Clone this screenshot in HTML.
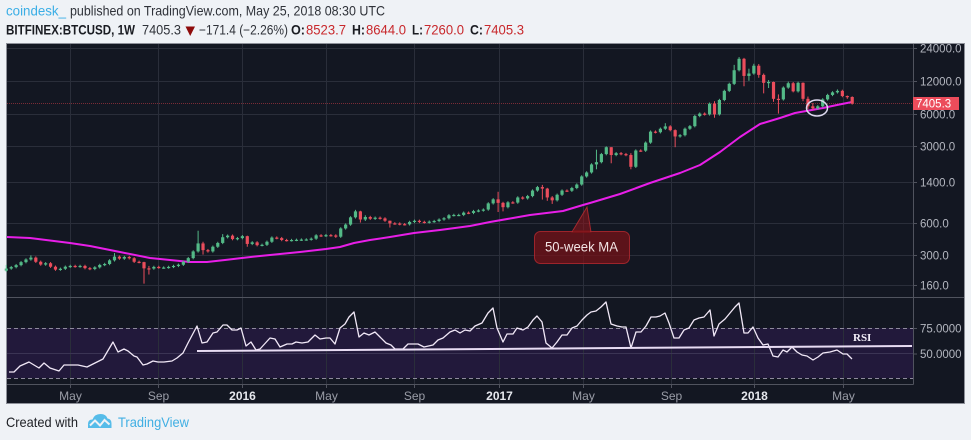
<!DOCTYPE html>
<html><head><meta charset="utf-8">
<style>
html,body{margin:0;padding:0;background:#eff2f6;overflow:hidden;}
svg{display:block;}
</style></head>
<body>
<svg id="s" width="971" height="440" viewBox="0 0 971 440" xmlns="http://www.w3.org/2000/svg" font-family="Liberation Sans, Arial, sans-serif">
<rect x="0" y="0" width="971" height="440" fill="#eff2f6"/>
<!-- header -->
<text x="6" y="15.5" font-size="14" fill="#3aaee6" textLength="60" lengthAdjust="spacingAndGlyphs">coindesk_</text>
<text x="70" y="15.5" font-size="14" fill="#2f3239" textLength="315" lengthAdjust="spacingAndGlyphs">published on TradingView.com, May 25, 2018 08:30 UTC</text>
<text x="6" y="34.5" font-size="13.5" font-weight="bold" fill="#1a1c22" textLength="129" lengthAdjust="spacingAndGlyphs">BITFINEX:BTCUSD, 1W</text>
<text x="142" y="34.5" font-size="13.5" fill="#2f3239" textLength="39" lengthAdjust="spacingAndGlyphs">7405.3</text>
<polygon points="185.5,26.5 195,26.5 190.2,36" fill="#8e0b0b"/>
<text x="199" y="34.5" font-size="13.5" fill="#2f3239" textLength="89" lengthAdjust="spacingAndGlyphs">−171.4 (−2.26%)</text>
<text x="291" y="34.5" font-size="13.5" font-weight="bold" fill="#1a1c22" textLength="14" lengthAdjust="spacingAndGlyphs">O:</text>
<text x="306" y="34.5" font-size="13.5" fill="#c8282c" textLength="40" lengthAdjust="spacingAndGlyphs">8523.7</text>
<text x="352" y="34.5" font-size="13.5" font-weight="bold" fill="#1a1c22" textLength="13" lengthAdjust="spacingAndGlyphs">H:</text>
<text x="366" y="34.5" font-size="13.5" fill="#c8282c" textLength="40" lengthAdjust="spacingAndGlyphs">8644.0</text>
<text x="412" y="34.5" font-size="13.5" font-weight="bold" fill="#1a1c22" textLength="11" lengthAdjust="spacingAndGlyphs">L:</text>
<text x="424" y="34.5" font-size="13.5" fill="#c8282c" textLength="40" lengthAdjust="spacingAndGlyphs">7260.0</text>
<text x="470" y="34.5" font-size="13.5" font-weight="bold" fill="#1a1c22" textLength="13" lengthAdjust="spacingAndGlyphs">C:</text>
<text x="484" y="34.5" font-size="13.5" fill="#c8282c" textLength="40" lengthAdjust="spacingAndGlyphs">7405.3</text>

<!-- chart panel -->
<rect x="6.5" y="43.5" width="958" height="360" fill="#131722" stroke="#8d9099" stroke-width="1"/>
<!-- RSI band -->
<rect x="7" y="328" width="906" height="50" fill="#22193b"/>
<g id="grid"></g>
<line x1="7" y1="353.5" x2="913" y2="353.5" stroke="#3b3454" stroke-width="1"/>
<line x1="7" y1="328.5" x2="913" y2="328.5" stroke="#8e8a9c" stroke-width="1" stroke-dasharray="4,3"/>
<line x1="7" y1="378.5" x2="913" y2="378.5" stroke="#8e8a9c" stroke-width="1" stroke-dasharray="4,3"/>
<!-- separators -->
<line x1="7" y1="297.5" x2="964" y2="297.5" stroke="#50535e" stroke-width="1"/>
<line x1="7" y1="384.5" x2="913.5" y2="384.5" stroke="#50535e" stroke-width="1"/>
<line x1="913.5" y1="44" x2="913.5" y2="384.5" stroke="#50535e" stroke-width="1"/>
<!-- price line -->
<line x1="7" y1="103.5" x2="913" y2="103.5" stroke="#7a2c36" stroke-width="1" stroke-dasharray="1,1"/>
<g id="ma"></g>
<g id="candles"></g>
<g id="rsi"></g>
<line x1="197" y1="351" x2="912" y2="346" stroke="#e8dcf3" stroke-width="2"/>
<text x="853" y="341" font-size="11" font-weight="bold" font-family="Liberation Serif, serif" fill="#f4f0fa">RSI</text>
<!-- circle -->
<ellipse cx="817" cy="108" rx="10.5" ry="8" fill="none" stroke="#dcd8ee" stroke-width="1.5"/>
<!-- callout -->
<polygon points="572,232 587,207 591,232" fill="rgba(150,22,28,0.55)" stroke="rgba(190,45,50,0.8)" stroke-width="1"/>
<rect x="534.5" y="231.5" width="95" height="32" rx="6" ry="6" fill="rgba(120,18,24,0.72)" stroke="rgba(175,40,46,0.85)" stroke-width="1"/>
<rect x="573" y="230" width="17" height="3" fill="rgba(120,18,24,0.72)"/>
<text x="545" y="251.5" font-size="14" fill="#f2e4e4" textLength="73" lengthAdjust="spacingAndGlyphs">50-week MA</text>
<g id="axis" font-size="11.5" fill="#b4b7c0"></g>
<!-- last price tag -->
<rect x="913" y="97" width="46" height="13" fill="#ec4c5b"/>
<text x="916" y="107.5" font-size="11.5" fill="#ffffff">7405.3</text>
<!-- footer -->
<text x="6" y="427" font-size="14" fill="#1e2025" textLength="72" lengthAdjust="spacingAndGlyphs">Created with</text>
<path d="M88,428 L88,424 Q88,419.5 92.5,419.5 Q94.5,414 100.5,414 Q106,414 107.5,418.5 Q111.5,419 111.5,423.5 L111.5,428 Z" fill="#55bce9"/>
<polyline points="90,425.5 95,420.5 100,425.5 104.5,420 109.5,424.5" fill="none" stroke="#eff2f6" stroke-width="2"/>
<text x="118" y="427" font-size="14" fill="#40afe3" textLength="71" lengthAdjust="spacingAndGlyphs">TradingView</text>
</svg>
<script>
(function(){
var NS='http://www.w3.org/2000/svg';
function el(tag,attrs,parent,text){var e=document.createElementNS(NS,tag);for(var k in attrs)e.setAttribute(k,attrs[k]);if(text!=null)e.textContent=text;parent.appendChild(e);return e;}
function py(p){return 48+32.8*Math.log(24000/p)/Math.LN2;}
function cx(i){return 6.3+i*4.918;}
var grid=document.getElementById('grid');
var axis=document.getElementById('axis');
// vertical grid + time labels
var vx=[[70,'May',0],[158,'Sep',0],[242,'2016',1],[326,'May',0],[414,'Sep',0],[499,'2017',1],[583,'May',0],[671,'Sep',0],[754,'2018',1],[843,'May',0]];
vx.forEach(function(v){
  el('line',{x1:v[0]+0.5,y1:44,x2:v[0]+0.5,y2:384,stroke:'#2a2e3a','stroke-width':1},grid);
  el('line',{x1:v[0]+0.5,y1:384,x2:v[0]+0.5,y2:388,stroke:'#50535e','stroke-width':1},axis);
  var t=el('text',{x:v[0]+0.5,y:400,'text-anchor':'middle','font-size':12,fill:v[2]?'#e6e8ee':'#9a9da7','font-weight':v[2]?'bold':'normal'},axis,v[1]);
});
// horizontal grid + price labels
var pl=[[24000,'24000.0'],[12000,'12000.0'],[6000,'6000.0'],[3000,'3000.0'],[1400,'1400.0'],[600,'600.0'],[300,'300.0'],[160,'160.0']];
pl.forEach(function(p){
  var y=Math.round(py(p[0]))+0.5;
  el('line',{x1:7,y1:y,x2:913,y2:y,stroke:'#2a2e3a','stroke-width':1},grid);
  el('line',{x1:913,y1:y,x2:917,y2:y,stroke:'#50535e','stroke-width':1},axis);
  el('text',{x:920,y:y+4},axis,p[1]);
});
[[328.5,'75.0000'],[354,'50.0000']].forEach(function(p){
  el('line',{x1:913,y1:p[0],x2:917,y2:p[0],stroke:'#50535e','stroke-width':1},axis);
  el('text',{x:920,y:p[0]+4},axis,p[1]);
});
// MA
var ma=[[7,237],[30,238],[70,243],[90,246],[100,248],[120,252],[150,258],[170,260],[190,262],[207,262],[225,260],[242,258],[260,256],[280,254],[300,252],[326,249],[340,247],[354,243],[370,240],[390,237],[414,233],[440,230],[470,226],[490,222],[513,218],[530,215],[563,211],[583,205],[590,203],[620,194],[650,183],[680,173],[700,165],[720,152],[740,137],[760,124],[780,118],[795,113],[823,108],[837,105],[852,102]];
el('polyline',{points:ma.map(function(p){return p.join(',');}).join(' '),fill:'none',stroke:'#e81ee8','stroke-width':2,'stroke-linejoin':'round'},document.getElementById('ma'));
// candles
var D=[[227,245,212],[234],[244],[260],[275],[286,300],[262],[247],[254],[236],[222],[226],[236],[240],[237],[240],[229],[225],[233],[245],[250],[270],[292,315],[280],[290],[282],[262],[260],[228,262,165],[227,240,200],[235],[232],[232],[235],[240],[246],[262],[283],[326],[386,505],[335,400,305],[326],[360],[390],[440,470],[455],[423],[432],
[450],[382,455,360],[395],[372],[375],[400],[437],[432],[415],[412],[415],[417],[419],[420],[427],[458],[454],[460],[457],[445],[530],[575],[670],[760,785],[640,770,600],[675,700,620],[650],[665],[655],[624],[590,625,540],[588],[580],[578],[608],[623],[609],[603],[612],[620],[640],[657],[700],[705],[705],[740],[735],[765],[775],[790],[900],[980],
[910,1150,750],[830,930,760],[920],[915],[1020],[1000],[1050],[1180],[1270],[1230,1330,975],[1020,1250,950],[960,1050,890],[1080],[1180],[1175],[1245],[1340],[1590],[1730],[2050],[2150,2800,1850],[2550],[2950,3000],[2500,2950,2100],[2600],[2550],[2500],[1950,2600,1850],[2750],[2740],[3250],[4100],[4050],[4360],[4580,4900],[4230],[3700,4300,2950],[3800],[4360],[4600],[5700],[6000],[5900],[7400],[5900,7800,5500],[8000],[9700],[11250],[15000,16800],[19100,19800],[13300,19500,10700],[14000,15500,12000],
[16500,17200],[13600,17100,12800],[11500,14000,9200],[11700,12200,10300],[8200,11800,7700],[8100,9000,6000],[10400],[11400,11800],[9600,11700,9400],[11500],[8200,11600,7800],[7000,8600,6600],[6700,7500,6500],[7000],[8100],[8900],[9400],[9700,10000],[8700],[8520,8800,8200],[7405.3,8644,7260]];
var cg=document.getElementById('candles');
var prev=217;
D.forEach(function(d,i){
  var c=d[0],o=(i==172?8523.7:prev);
  var h=d[1]||Math.max(o,c)*1.025,l=d[2]||Math.min(o,c)*0.975;
  var up=c>=o,col=up?'#53b987':'#eb4d5c';
  var x=cx(i);
  el('line',{x1:x,y1:py(h),x2:x,y2:py(l),stroke:col,'stroke-width':1},cg);
  var yt=py(Math.max(o,c)),yb=py(Math.min(o,c));
  if(yb-yt<1.2){yb=yt+1.2;}
  el('rect',{x:x-1.6,y:yt,width:3.2,height:yb-yt,fill:col},cg);
  prev=c;
});
// RSI
var R=[[9,372],[14,372],[20,366],[29,362],[39,368],[44,363],[50,368],[59,371],[64,365],[72,365],[78,365],[87,367],[99,361],[103,359],[113,342],[118,352],[124,349],[128,351],[134,356],[137,357],[143,365],[147,364],[153,361],[158,362],[164,362],[172,361],[177,358],[183,353],[188,343],[197,326],[202,343],[207,342],[213,333],[217,332],[223,325],[227,325],[232,330],[237,330],[241,328],[246,346],[251,342],[256,350],[260,349],[270,338],[275,339],[280,347],[287,344],[292,344],[296,342],[302,343],[308,342],[315,335],[320,339],[326,338],[330,338],[335,344],[340,328],[345,324],[349,317],[354,312],[359,337],[364,333],[369,335],[375,332],[380,337],[386,343],[391,345],[395,349],[403,349],[408,344],[418,344],[424,347],[433,345],[438,340],[443,338],[450,332],[455,330],[460,333],[465,330],[470,331],[475,326],[482,323],[488,313],[493,308],[497,328],[503,342],[507,334],[513,334],[517,328],[523,330],[528,327],[533,320],[537,316],[542,322],[546,343],[552,348],[557,342],[562,335],[567,335],[572,328],[577,326],[582,320],[587,315],[591,312],[596,311],[601,307],[606,302],[611,324],[617,326],[622,327],[626,327],[631,348],[636,332],[641,332],[646,326],[651,317],[656,317],[660,316],[665,313],[669,323],[674,338],[679,338],[684,330],[689,328],[694,320],[699,318],[704,317],[710,310],[714,336],[719,324],[725,319],[730,313],[735,307],[739,303],[744,333],[748,333],[753,327],[758,338],[763,345],[768,344],[773,356],[778,357],[783,350],[787,352],[792,347],[797,352],[802,355],[807,356],[813,360],[818,357],[823,353],[830,352],[837,350],[843,354],[847,354],[852,359]];
el('polyline',{points:R.map(function(p){return p.join(',');}).join(' '),fill:'none',stroke:'#f1e8f7','stroke-width':1.3,'stroke-linejoin':'round'},document.getElementById('rsi'));
})();
</script>
</body></html>
